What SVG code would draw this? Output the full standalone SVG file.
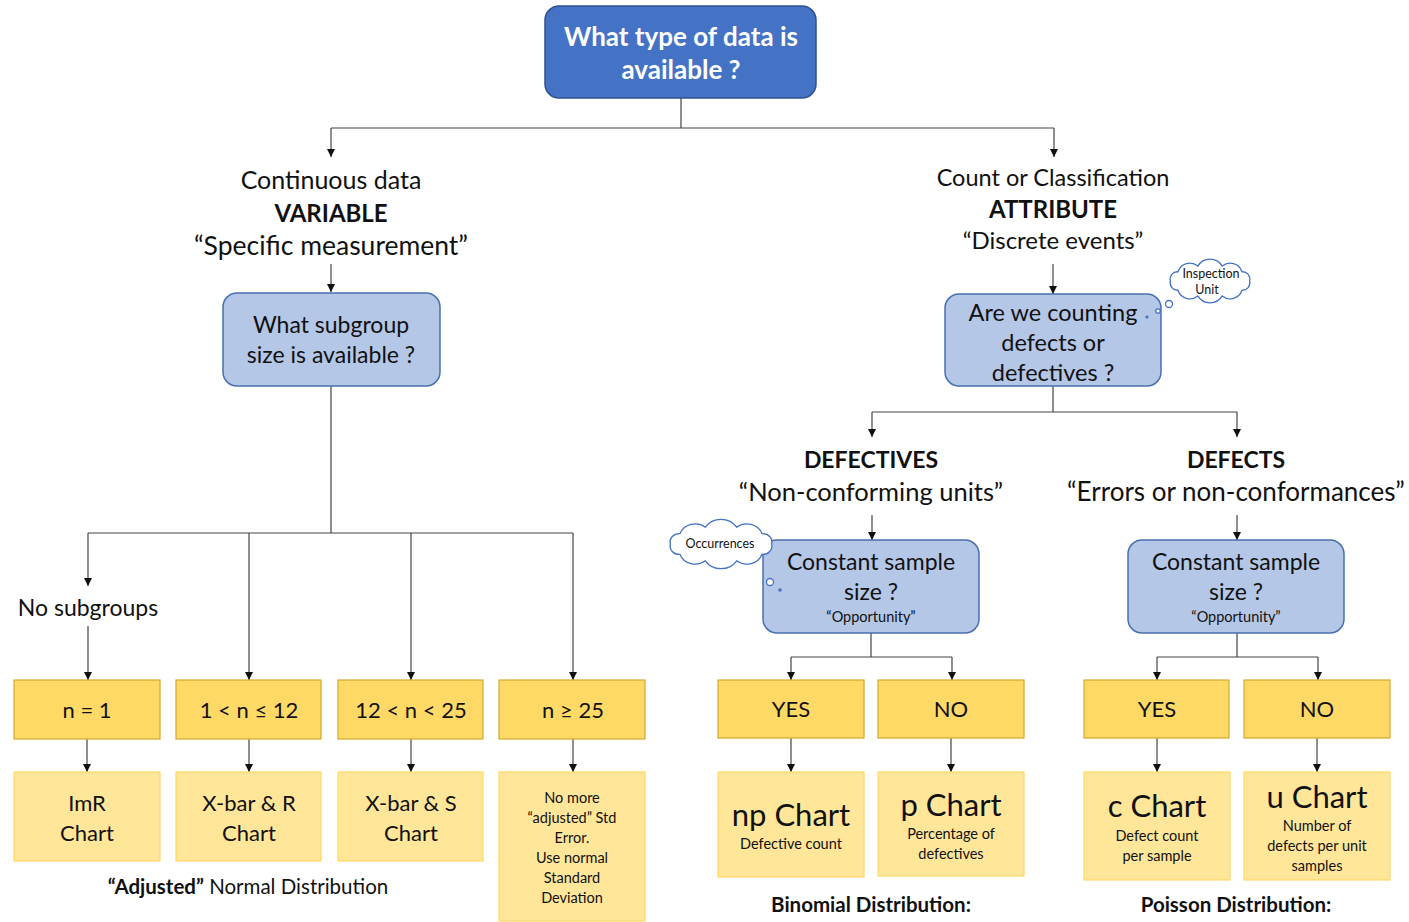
<svg xmlns="http://www.w3.org/2000/svg" width="1409" height="922" viewBox="0 0 1409 922">
<style>
text{font-family:Lato,"Liberation Sans",sans-serif;fill:#111;text-anchor:middle}
.b{font-weight:bold}
.w{fill:#fff;font-weight:bold;font-size:26px}
.h{font-size:25px}
.q{font-size:23px}
.y{font-size:22px}
.s{font-size:14.5px}
.big{font-size:31px}
.dist{font-weight:bold;font-size:20.5px}
.blue{fill:#4472C4;stroke:#2F528F;stroke-width:1.5}
.lb{fill:#B4C7E7;stroke:#4A6FB0;stroke-width:1.5}
.gold{fill:#FFD966;stroke:#D4A82C;stroke-width:1.2}
.pale{fill:#FFE699;stroke:#FFD966;stroke-width:1.2}
.ln{fill:none;stroke:#444;stroke-width:1.2}
.cl{fill:#fff;stroke:#4472C4;stroke-width:1.3}
</style>
<defs>
<marker id="ar" viewBox="0 0 10 10" refX="10" refY="5" markerWidth="8" markerHeight="8" markerUnits="userSpaceOnUse" orient="auto">
<path d="M0,0 L10,5 L0,10 Z" fill="#111"/>
</marker>
<path id="cloud" vector-effect="non-scaling-stroke" d="M44,0 A8 8 0 0 1 35.6,10 A14 14 0 0 1 13.6,16.2 A16 16 0 0 1 -13.6,16.2 A14 14 0 0 1 -35.6,10 A8 8 0 0 1 -44,0 A8 8 0 0 1 -35.6,-10 A14 14 0 0 1 -13.6,-16.2 A16 16 0 0 1 13.6,-16.2 A14 14 0 0 1 35.6,-10 A8 8 0 0 1 44,0 Z"/>
</defs>

<g id="connectors" class="ln">
<path d="M681,98 V128 M331,128 H1054"/>
<path d="M331,128 V157" marker-end="url(#ar)"/>
<path d="M1054,128 V157" marker-end="url(#ar)"/>
<path d="M331,264 V292" marker-end="url(#ar)"/>
<path d="M331,386 V533 M88,533 H573"/>
<path d="M88,533 V586" marker-end="url(#ar)"/>
<path d="M249,533 V680" marker-end="url(#ar)"/>
<path d="M411,533 V680" marker-end="url(#ar)"/>
<path d="M573,533 V680" marker-end="url(#ar)"/>
<path d="M88,626 V680" marker-end="url(#ar)"/>
<path d="M87,739 V772" marker-end="url(#ar)"/>
<path d="M249,739 V772" marker-end="url(#ar)"/>
<path d="M411,739 V772" marker-end="url(#ar)"/>
<path d="M573,739 V772" marker-end="url(#ar)"/>
<path d="M1053,264 V294" marker-end="url(#ar)"/>
<path d="M1053,386 V412 M872,412 H1237"/>
<path d="M872,412 V437" marker-end="url(#ar)"/>
<path d="M1237,412 V437" marker-end="url(#ar)"/>
<path d="M872,515 V540" marker-end="url(#ar)"/>
<path d="M1237,515 V540" marker-end="url(#ar)"/>
<path d="M871,633 V657 M791,657 H952"/>
<path d="M791,657 V680" marker-end="url(#ar)"/>
<path d="M952,657 V680" marker-end="url(#ar)"/>
<path d="M1237,633 V657 M1157,657 H1318"/>
<path d="M1157,657 V680" marker-end="url(#ar)"/>
<path d="M1318,657 V680" marker-end="url(#ar)"/>
<path d="M791,738 V772" marker-end="url(#ar)"/>
<path d="M951,738 V772" marker-end="url(#ar)"/>
<path d="M1157,738 V772" marker-end="url(#ar)"/>
<path d="M1317,738 V772" marker-end="url(#ar)"/>
</g>

<g id="root">
<rect class="blue" x="545" y="6" width="271" height="92" rx="14"/>
<text class="w" x="681" y="46">What type of data is</text>
<text class="w" x="681" y="79">available ?</text>
</g>

<g id="variable">
<text class="h" x="331" y="189">Continuous data</text>
<text class="h b" x="331" y="222" style="font-size:24px">VARIABLE</text>
<text class="h" x="331" y="255" style="font-size:26.5px">“Specific measurement”</text>
</g>

<g id="subgroup">
<rect class="lb" x="223" y="293" width="217" height="93" rx="14"/>
<text class="q" x="331" y="333">What subgroup</text>
<text class="q" x="331" y="363">size is available ?</text>
</g>

<g id="nosub"><text class="q" x="88" y="616">No subgroups</text></g>

<g id="n1"><rect class="gold" x="14" y="680" width="146" height="59"/><text class="y" x="87" y="718">n = 1</text></g>
<g id="n12"><rect class="gold" x="176" y="680" width="145" height="59"/><text class="y" x="249" y="718">1 &lt; n ≤ 12</text></g>
<g id="n25"><rect class="gold" x="338" y="680" width="145" height="59"/><text class="y" x="411" y="718">12 &lt; n &lt; 25</text></g>
<g id="nge25"><rect class="gold" x="499" y="680" width="146" height="59"/><text class="y" x="573" y="718">n ≥ 25</text></g>

<g id="imr"><rect class="pale" x="14" y="772" width="146" height="89"/><text class="y" x="87" y="811">ImR</text><text class="y" x="87" y="841">Chart</text></g>
<g id="xbarr"><rect class="pale" x="176" y="772" width="145" height="89"/><text class="y" x="249" y="811">X-bar &amp; R</text><text class="y" x="249" y="841">Chart</text></g>
<g id="xbars"><rect class="pale" x="338" y="772" width="145" height="89"/><text class="y" x="411" y="811">X-bar &amp; S</text><text class="y" x="411" y="841">Chart</text></g>
<g id="nomore"><rect class="pale" x="499" y="772" width="146" height="149"/>
<text class="s" x="572" y="803">No more</text>
<text class="s" x="572" y="823">“adjusted” Std</text>
<text class="s" x="572" y="843">Error.</text>
<text class="s" x="572" y="863">Use normal</text>
<text class="s" x="572" y="883">Standard</text>
<text class="s" x="572" y="903">Deviation</text>
</g>
<g id="adjnote"><text x="248" y="894" style="font-size:20.5px"><tspan class="b">“Adjusted”</tspan> Normal Distribution</text></g>

<g id="attribute">
<text class="h" x="1053" y="186" style="font-size:23.5px">Count or Classification</text>
<text class="h b" x="1053" y="218" style="font-size:24px">ATTRIBUTE</text>
<text class="h" x="1053" y="249" style="font-size:24px">“Discrete events”</text>
</g>

<g id="counting">
<rect class="lb" x="945" y="294" width="216" height="92" rx="14"/>
<text x="1053" y="321" style="font-size:23.5px">Are we counting</text>
<text x="1053" y="351" style="font-size:23.5px">defects or</text>
<text x="1053" y="381" style="font-size:23.5px">defectives ?</text>
</g>
<g id="cloud-inspection">
<use href="#cloud" class="cl" transform="translate(1210,281) scale(0.9,0.92)"/>
<circle class="cl" cx="1169" cy="304" r="3.5"/>
<circle class="cl" cx="1158" cy="311" r="2.2"/>
<circle cx="1147" cy="317" r="1.6" fill="#4472C4"/>
<text x="1211" y="278" style="font-size:12.5px">Inspection</text>
<text x="1207" y="294" style="font-size:12.5px">Unit</text>
</g>

<g id="defectives">
<text class="h b" x="871" y="468" style="font-size:23px">DEFECTIVES</text>
<text class="h" x="871" y="501" style="font-size:25.5px">“Non-conforming units”</text>
</g>
<g id="defects">
<text class="h b" x="1236" y="468" style="font-size:23px">DEFECTS</text>
<text class="h" x="1236" y="501" style="font-size:26px">“Errors or non-conformances”</text>
</g>

<g id="const1">
<rect class="lb" x="763" y="540" width="216" height="93" rx="14"/>
<text class="q" x="871" y="570">Constant sample</text>
<text class="q" x="871" y="600">size ?</text>
<text class="s" x="871" y="622">“Opportunity”</text>
</g>
<g id="cloud-occ">
<use href="#cloud" class="cl" transform="translate(721,544) scale(1.15,1.04)"/>
<circle class="cl" cx="770" cy="582" r="3.5"/>
<circle cx="780" cy="590" r="1.8" fill="#4472C4"/>
<text x="720" y="548" style="font-size:12.5px">Occurrences</text>
</g>
<g id="const2">
<rect class="lb" x="1128" y="540" width="216" height="93" rx="14"/>
<text class="q" x="1236" y="570">Constant sample</text>
<text class="q" x="1236" y="600">size ?</text>
<text class="s" x="1236" y="622">“Opportunity”</text>
</g>

<g id="yes1"><rect class="gold" x="718" y="680" width="146" height="58"/><text class="y" x="791" y="717">YES</text></g>
<g id="no1"><rect class="gold" x="878" y="680" width="146" height="58"/><text class="y" x="951" y="717">NO</text></g>
<g id="yes2"><rect class="gold" x="1084" y="680" width="145" height="58"/><text class="y" x="1157" y="717">YES</text></g>
<g id="no2"><rect class="gold" x="1244" y="680" width="146" height="58"/><text class="y" x="1317" y="717">NO</text></g>

<g id="np"><rect class="pale" x="718" y="772" width="146" height="105"/><text class="big" x="791" y="826">np Chart</text><text class="s" x="791" y="849">Defective count</text></g>
<g id="p"><rect class="pale" x="878" y="772" width="146" height="104"/><text class="big" x="951" y="816">p Chart</text><text class="s" x="951" y="839">Percentage of</text><text class="s" x="951" y="859">defectives</text></g>
<g id="c"><rect class="pale" x="1084" y="772" width="146" height="108"/><text class="big" x="1157" y="817">c Chart</text><text class="s" x="1157" y="841">Defect count</text><text class="s" x="1157" y="861">per sample</text></g>
<g id="u"><rect class="pale" x="1244" y="772" width="146" height="108"/><text class="big" x="1317" y="808">u Chart</text><text class="s" x="1317" y="831">Number of</text><text class="s" x="1317" y="851">defects per unit</text><text class="s" x="1317" y="871">samples</text></g>

<g id="binomial"><text class="dist" x="871" y="912">Binomial Distribution:</text></g>
<g id="poisson"><text class="dist" x="1236" y="912">Poisson Distribution:</text></g>
</svg>
